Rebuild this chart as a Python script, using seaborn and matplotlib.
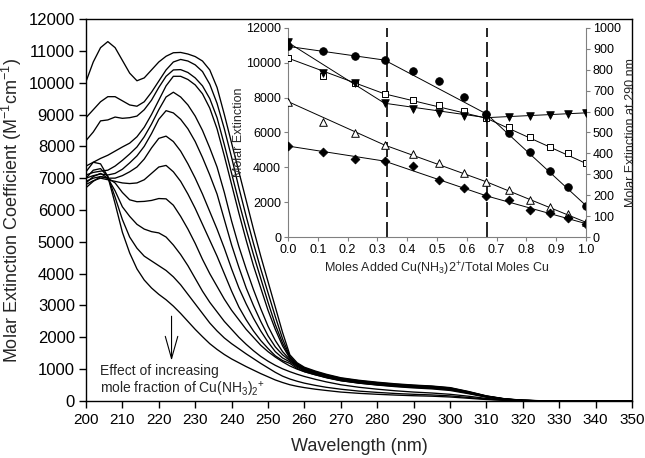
import numpy as np
import pandas as pd
import matplotlib
matplotlib.use("Agg")
import matplotlib.pyplot as plt
import seaborn as sns

# ---------------- data: main spectra ----------------
wavelength = [200, 202, 204, 206, 208, 210, 212, 214, 216, 218, 220, 222, 224, 226, 228, 230, 232, 234,
              236, 238, 240, 242, 244, 246, 248, 250, 252, 254, 256,
              258, 260, 263, 266, 270, 275, 280, 285, 290, 295, 300, 305, 310, 315, 320, 325, 330, 340, 350]

spec_00 = [10030, 10650, 11100, 11290, 11100, 10700, 10300, 10060, 10150, 10400, 10650, 10830, 10940, 10950, 10900, 10820, 10680, 10400,
           9850, 9000, 8100, 7200, 6300, 5400, 4550, 3750, 2950, 2150, 1450,
           1200, 1060, 940, 840, 730, 650, 590, 540, 500, 470, 420, 300, 160, 70, 25, 8, 0, 0, 0]
spec_01 = [8900, 9150, 9400, 9560, 9560, 9430, 9300, 9260, 9400, 9700, 10050, 10400, 10650, 10730, 10680, 10560, 10350, 9950,
           9350, 8550, 7650, 6700, 5800, 4950, 4150, 3400, 2650, 1950, 1400,
           1170, 1040, 920, 820, 715, 635, 575, 525, 490, 460, 410, 290, 155, 66, 22, 6, 0, 0, 0]
spec_02 = [8180, 8450, 8800, 8830, 8920, 8880, 8900, 8950, 9150, 9450, 9850, 10200, 10400, 10410, 10320, 10150, 9900, 9500,
           8900, 8050, 7150, 6250, 5400, 4600, 3850, 3100, 2400, 1820, 1370,
           1150, 1020, 905, 805, 700, 620, 562, 515, 480, 450, 400, 282, 150, 63, 20, 5, 0, 0, 0]
spec_03 = [7380, 7500, 7620, 7720, 7850, 7980, 8100, 8300, 8600, 9000, 9450, 9900, 10200, 10200, 10100, 9930, 9650, 9200,
           8550, 7700, 6800, 5900, 5050, 4250, 3550, 2850, 2250, 1730, 1340,
           1130, 1010, 890, 790, 688, 610, 552, 505, 470, 440, 392, 275, 145, 60, 19, 5, 0, 0, 0]
spec_04 = [7100, 7180, 7220, 7250, 7380, 7560, 7760, 7980, 8300, 8700, 9150, 9550, 9700, 9550, 9300, 8950, 8500, 7950,
           7350, 6550, 5650, 4850, 4150, 3500, 2900, 2350, 1900, 1550, 1300,
           1110, 990, 875, 775, 675, 598, 540, 495, 460, 430, 382, 268, 140, 58, 18, 4, 0, 0, 0]
spec_05 = [7000, 7080, 7130, 7100, 7150, 7280, 7480, 7700, 8000, 8400, 8850, 9120, 9050, 8850, 8550, 8150, 7650, 7100,
           6500, 5700, 4900, 4200, 3550, 3000, 2500, 2050, 1700, 1450, 1270,
           1090, 970, 860, 760, 662, 586, 530, 485, 450, 420, 373, 260, 136, 55, 17, 4, 0, 0, 0]
spec_06 = [6900, 7000, 7050, 7000, 7000, 7080, 7200, 7350, 7600, 7950, 8250, 8320, 8150, 7850, 7450, 7000, 6500, 5950,
           5400, 4800, 4150, 3550, 3050, 2600, 2200, 1850, 1550, 1350, 1230,
           1060, 950, 845, 745, 650, 574, 518, 474, 440, 410, 364, 253, 132, 53, 16, 4, 0, 0, 0]
spec_07 = [6800, 6920, 7000, 6950, 6900, 6850, 6830, 6850, 6950, 7150, 7350, 7400, 7200, 6900, 6500, 6050, 5550, 5050,
           4550, 4000, 3450, 2950, 2550, 2200, 1900, 1650, 1420, 1270, 1180,
           1020, 920, 825, 730, 636, 562, 507, 463, 430, 400, 355, 246, 128, 51, 15, 3, 0, 0, 0]
spec_08 = [6700, 6900, 7050, 7000, 6850, 6550, 6320, 6260, 6270, 6300, 6360, 6350, 6150, 5800, 5400, 4950, 4450, 4000,
           3600, 3200, 2850, 2550, 2250, 2000, 1750, 1550, 1380, 1230, 1100,
           1000, 920, 820, 740, 640, 560, 500, 450, 410, 380, 330, 230, 120, 50, 15, 5, 0, 0, 0]
spec_09 = [6850, 7050, 7150, 7000, 6600, 6100, 5800, 5550, 5400, 5320, 5280, 5150, 4900, 4600, 4250, 3850, 3450, 3100,
           2800, 2500, 2250, 2000, 1780, 1580, 1400, 1250, 1120, 1010, 920,
           840, 770, 680, 600, 510, 430, 370, 320, 280, 250, 210, 150, 80, 35, 10, 3, 0, 0, 0]
spec_10 = [7000, 7250, 7300, 7050, 6400, 5700, 5150, 4800, 4550, 4400, 4250, 4100, 3900, 3650, 3350, 3050, 2750, 2450,
           2200, 1980, 1800, 1640, 1480, 1330, 1180, 1040, 900, 780, 690,
           620, 560, 490, 430, 370, 310, 270, 235, 210, 190, 160, 110, 60, 25, 8, 2, 0, 0, 0]
spec_11 = [7200, 7500, 7450, 7050, 6200, 5300, 4650, 4150, 3800, 3550, 3350, 3180, 2980, 2750, 2500, 2250, 2020, 1800,
           1620, 1460, 1320, 1200, 1080, 970, 860, 760, 660, 580, 510,
           460, 420, 370, 330, 280, 240, 210, 185, 165, 150, 125, 85, 45, 18, 5, 0, 0, 0, 0]
spectra = [spec_00, spec_01, spec_02, spec_03, spec_04, spec_05,
           spec_06, spec_07, spec_08, spec_09, spec_10, spec_11]

# ---------------- data: inset ----------------
mole_fraction = [0.0, 0.119, 0.225, 0.324, 0.419, 0.508, 0.591, 0.666, 0.741, 0.812, 0.879, 0.938, 1.0]
ext_circle = [10944, 10694, 10406, 10157, 9542, 8947, 8026, 7066, 5990, 4877, 3802, 2880, 1805]
ext_square = [10272, 9254, 8832, 8218, 7872, 7584, 7238, 6816, 6298, 5722, 5184, 4800, 4224]
ext_triangle = [7776, 6624, 5990, 5280, 4742, 4224, 3648, 3168, 2688, 2150, 1728, 1306, 845]
ext_diamond = [5222, 4896, 4493, 4358, 4070, 3264, 2842, 2362, 2150, 1574, 1402, 1114, 768]
ext_290 = [931, 787, 736, 640, 613, 595, 579, 571, 576, 579, 582, 590, 594]

main_xticks = list(range(200, 351, 10))
main_yticks = list(range(0, 12001, 1000))
inset_xticks = [0.0, 0.1, 0.2, 0.3, 0.4, 0.5, 0.6, 0.7, 0.8, 0.9, 1.0]
inset_yticks = list(range(0, 12001, 2000))
inset_y2ticks = list(range(0, 1001, 100))

# ---------------- style ----------------
sns.set_style("ticks")
plt.rcParams["font.family"] = ["Liberation Sans", "DejaVu Sans"]
plt.rcParams["mathtext.fontset"] = "custom"
plt.rcParams["mathtext.rm"] = "Liberation Sans"
plt.rcParams["mathtext.it"] = "Liberation Sans:italic"
plt.rcParams["mathtext.default"] = "regular"

fig = plt.figure(figsize=(6.45, 4.58), dpi=100)
ax = fig.add_axes([0.1333, 0.1245, 0.8467, 0.834])

rows = []
for k, s in enumerate(spectra):
    for w, v in zip(wavelength, s):
        rows.append((k, w, v))
df = pd.DataFrame(rows, columns=["curve", "wl", "eps"])
sns.lineplot(data=df, x="wl", y="eps", units="curve", estimator=None,
             color="black", lw=0.95, legend=False, sort=False, ax=ax)

ax.set_xlim(200, 350)
ax.set_ylim(0, 12000)
ax.set_xticks(main_xticks)
ax.set_yticks(main_yticks)
ax.tick_params(axis="both", direction="out", length=5, width=1, colors="black")
ax.tick_params(axis="x", labelsize=11)
ax.tick_params(axis="y", labelsize=12, pad=3)
for sp in ax.spines.values():
    sp.set_visible(True)
    sp.set_color("black")
    sp.set_linewidth(1.0)
ax.set_xlabel("Wavelength (nm)", fontsize=13, labelpad=8)
ax.set_ylabel("Molar Extinction Coefficient (M$^{-1}$cm$^{-1}$)", fontsize=13, labelpad=3)

ax.annotate("", xy=(223.5, 1180), xytext=(223.5, 2750),
            arrowprops=dict(arrowstyle="->,head_length=1.6,head_width=0.45",
                            lw=0.8, color="black", mutation_scale=10))
ax.text(203.8, 612, "Effect of increasing\nmole fraction of Cu(NH$_3$)$_2$$^{+}$",
        fontsize=10, ha="left", va="center", linespacing=1.15)

# ---------------- inset ----------------
axin = fig.add_axes([0.4465, 0.4825, 0.462, 0.4564])
axin.set_facecolor("none")
ax2 = axin.twinx()
ax2.set_facecolor("none")

breaks = [0, 3, 7, 12]
seg_x = [mole_fraction[i] for i in breaks]

def segs(vals):
    return [vals[i] for i in breaks]

for vals in [ext_circle, ext_square, ext_triangle, ext_diamond]:
    sns.lineplot(x=seg_x, y=segs(vals), color="black", lw=0.7, ax=axin, sort=False)
sns.lineplot(x=seg_x, y=segs(ext_290), color="black", lw=0.7, ax=ax2, sort=False)

axin.axvline(1 / 3, color="black", lw=1.2, ls=(0, (9, 3)))
axin.axvline(2 / 3, color="black", lw=1.2, ls=(0, (9, 3)))

sns.scatterplot(x=mole_fraction, y=ext_circle, marker="o", s=30, color="black",
                edgecolor="black", linewidth=0.6, ax=axin, zorder=4)
sns.scatterplot(x=mole_fraction, y=ext_square, marker="s", s=22, color="white",
                edgecolor="black", linewidth=0.7, ax=axin, zorder=4)
sns.scatterplot(x=mole_fraction, y=ext_triangle, marker="^", s=30, color="white",
                edgecolor="black", linewidth=0.7, ax=axin, zorder=4)
sns.scatterplot(x=mole_fraction, y=ext_diamond, marker="D", s=20, color="black",
                edgecolor="black", linewidth=0.6, ax=axin, zorder=4)
sns.scatterplot(x=mole_fraction, y=ext_290, marker="v", s=30, color="black",
                edgecolor="black", linewidth=0.6, ax=ax2, zorder=4)

axin.set_xlim(0, 1.0)
axin.set_ylim(0, 12000)
ax2.set_ylim(0, 1000)
axin.set_xticks(inset_xticks)
axin.set_xticklabels([f"{t:.1f}" for t in inset_xticks])
axin.set_yticks(inset_yticks)
ax2.set_yticks(inset_y2ticks)
axin.tick_params(axis="both", direction="out", length=3, width=0.8,
                 color="#808080", labelsize=9, labelcolor="black", pad=2)
ax2.tick_params(axis="y", direction="out", length=3, width=0.8,
                color="#808080", labelsize=9, labelcolor="black", pad=2)
for a in (axin, ax2):
    a.spines["top"].set_visible(False)
    for side in ("left", "right", "bottom"):
        a.spines[side].set_color("#808080")
        a.spines[side].set_linewidth(0.8)
ax2.spines["left"].set_visible(False)
ax2.spines["bottom"].set_visible(False)
axin.spines["right"].set_visible(False)
axin.set_xlabel("Moles Added Cu(NH$_3$)2$^{+}$/Total Moles Cu", fontsize=9, labelpad=3)
axin.set_ylabel("Molar Extinction", fontsize=9, labelpad=1)
ax2.set_ylabel("Molar Extinction at 290 nm", fontsize=9, labelpad=3)

fig.savefig("out.png", dpi=100)
